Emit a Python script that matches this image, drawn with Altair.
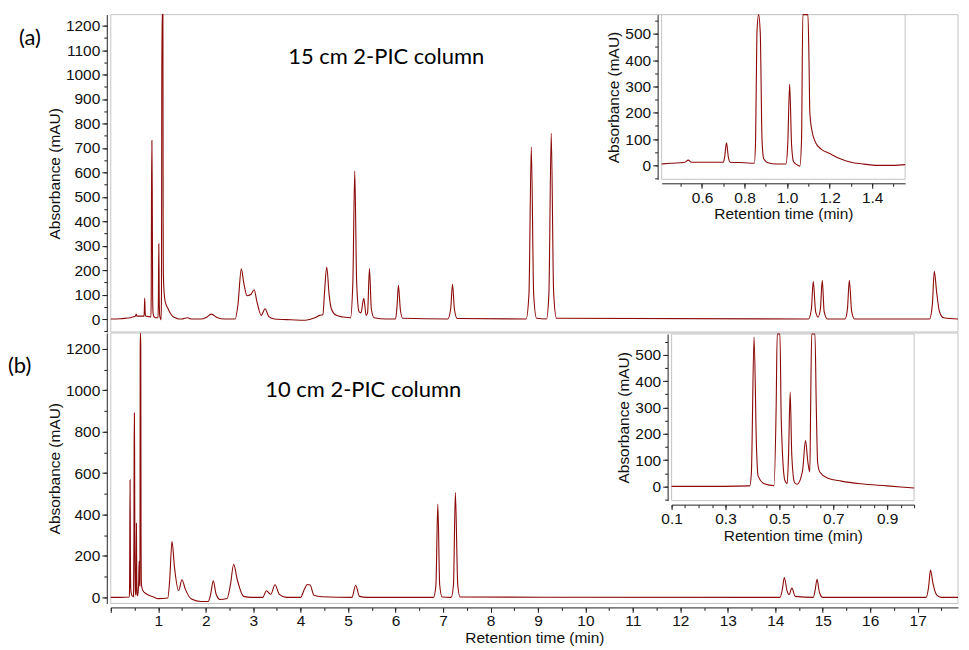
import altair as alt
import pandas as pd

# ---------------- data ----------------
# 15 cm 2-PIC column chromatogram (time in min, absorbance in mAU)
TIME_15 = [0.00, 0.20, 0.35, 0.41, 0.45, 0.52, 0.535, 0.55, 0.65, 0.70, 0.706, 0.715, 0.724, 0.732,
           0.80, 0.846, 0.852, 0.858, 0.866, 0.874, 0.882, 0.89, 0.91, 0.95, 0.995, 1.003, 1.012,
           1.021, 1.03, 1.045, 1.06, 1.068, 1.074, 1.08, 1.09, 1.098, 1.103, 1.107, 1.115, 1.135,
           1.16, 1.20, 1.25, 1.30, 1.35, 1.43, 1.50, 1.555, 1.62, 1.70, 1.90, 2.00, 2.12, 2.25,
           2.40, 2.62, 2.68, 2.75, 2.80, 2.87, 2.95, 3.02, 3.08, 3.17, 3.25, 3.33, 3.45, 3.80,
           4.10, 4.30, 4.40, 4.47, 4.50, 4.55, 4.60, 4.65, 4.75, 4.90, 5.05, 5.10, 5.14, 5.18,
           5.23, 5.27, 5.33, 5.38, 5.41, 5.45, 5.49, 5.55, 5.80, 6.00, 6.03, 6.06, 6.10, 6.15,
           7.10, 7.16, 7.20, 7.24, 7.30, 8.75, 8.81, 8.86, 8.91, 8.97, 9.18, 9.23, 9.28, 9.33,
           9.39, 14.70, 14.76, 14.80, 14.85, 14.90, 14.95, 14.99, 15.03, 15.10, 15.47, 15.52,
           15.56, 15.61, 15.67, 17.25, 17.31, 17.35, 17.40, 17.46, 17.55, 17.85]
ABS_15 = [0, 1, 4, 5, 8, 12, 20, 12, 12, 12, 30, 86, 30, 12,
          10, 8, 100, 500, 730, 500, 100, 25, 10, 5, 5, 80, 308,
          80, 15, 3, -3, 100, 900, 1800, 2500, 1500, 400, 200, 140, 85,
          62, 45, 25, 12, 6, 0, 0, 3, 5, 0, 0, 5, 20, 5,
          0, 0, 60, 205, 150, 95, 100, 120, 70, 15, 42, 10, 0, -3,
          -5, 5, 15, 18, 100, 213, 100, 40, 15, 8, 5, 150, 605, 150,
          30, 25, 85, 15, 25, 207, 40, 5, 0, 0, 50, 138, 40, 3,
          0, 40, 142, 40, 2, 0, 100, 703, 100, 3, 0, 100, 760, 110,
          3, 0, 40, 154, 30, 8, 40, 158, 30, 0, 0, 40,
          158, 30, 0, 0, 60, 195, 110, 30, 5, 0]

# 10 cm 2-PIC column chromatogram
TIME_10 = [0.00, 0.10, 0.20, 0.39, 0.396, 0.406, 0.415, 0.421, 0.444, 0.48, 0.488, 0.492, 0.497,
           0.502, 0.507, 0.52, 0.529, 0.534, 0.54, 0.546, 0.556, 0.566, 0.586, 0.597, 0.606,
           0.613, 0.616, 0.62, 0.626, 0.632, 0.637, 0.642, 0.65, 0.68, 0.73, 0.80, 0.90, 1.00,
           1.20, 1.24, 1.29, 1.34, 1.43, 1.50, 1.57, 1.70, 1.90, 2.05, 2.10, 2.16, 2.22, 2.30,
           2.45, 2.52, 2.59, 2.66, 2.80, 2.95, 3.20, 3.28, 3.37, 3.46, 3.55, 3.70, 4.00, 4.08,
           4.14, 4.20, 4.28, 4.45, 5.08, 5.16, 5.24, 5.40, 6.80, 6.85, 6.89, 6.93, 6.98, 7.17,
           7.22, 7.26, 7.31, 7.36, 14.10, 14.15, 14.19, 14.25, 14.29, 14.35, 14.42, 14.80, 14.84,
           14.88, 14.93, 15.00, 17.18, 17.23, 17.27, 17.32, 17.40, 17.50, 17.85]
ABS_10 = [0, 0, 0, 2, 50, 567, 150, 40, 10, 3, 300, 700, 890,
          700, 250, 24, 11, 120, 358, 120, 15, 8, 60, 174, 90,
          55, 300, 1200, 2500, 1200, 300, 90, 55, 31, 20, 10, 2, -6,
          -3, 80, 271, 150, 33, 85, 40, -8, -20, -20, 10, 80, 15, -10,
          -5, 60, 160, 90, 5, 0, 0, 32, 15, 61, 15, 0, 0, 40,
          62, 60, 10, 3, 0, 59, 5, 0, 0, 60, 451, 60, 2, 0,
          60, 506, 60, 2, 0, 40, 96, 30, 13, 45, 5, 0, 35,
          88, 25, 0, 0, 50, 132, 70, 12, 0, 0]

TITLE_A = "15 cm 2-PIC column"
TITLE_B = "10 cm 2-PIC column"
TAG_A = "(a)"
TAG_B = "(b)"
X_TITLE = "Retention time (min)"
Y_TITLE = "Absorbance (mAU)"

# axis domains
X_MAIN = [0, 17.85]
Y_TOP = [-53, 1245]
Y_BOT = [-29, 1276]
X_IN_A = [0.41, 1.555]
Y_IN_A = [-53, 573]
X_IN_B = [0.1, 1.0]
Y_IN_B = [-54, 579]

# tick positions
MAIN_X_MAJOR = list(range(0, 18))
MAIN_X_MINOR = [i / 2 for i in range(0, 36)]
TOP_Y_MAJOR = list(range(0, 1201, 100))
TOP_Y_MINOR = list(range(-50, 1201, 50))
BOT_Y_MAJOR = list(range(0, 1201, 200))
BOT_Y_MINOR = list(range(0, 1201, 100))
IN_Y_MAJOR = list(range(0, 501, 100))
IN_Y_MINOR = list(range(-50, 551, 50))
IN_A_X_MAJOR = [0.6, 0.8, 1.0, 1.2, 1.4]
IN_A_X_MINOR = [0.5, 0.6, 0.7, 0.8, 0.9, 1.0, 1.1, 1.2, 1.3, 1.4, 1.5]
IN_B_X_MAJOR = [0.1, 0.3, 0.5, 0.7, 0.9]
IN_B_X_MINOR = [0.1, 0.15, 0.2, 0.25, 0.3, 0.35, 0.4, 0.45, 0.5, 0.55, 0.6, 0.65, 0.7,
                0.75, 0.8, 0.85, 0.9, 0.95, 1.0]

# ---------------- layout (pixels inside the plot area) ----------------
W, H = 849, 590
R_X_MAIN = [0, W]
R_Y_TOP = [318, 0]
R_Y_BOT = [590, 319]
R_X_IN_A = [552, 796]
R_Y_IN_A = [165, 0]
R_X_IN_B = [562, 805]
R_Y_IN_B = [487, 320]

RED = "#8b0a0a"
FRAME = "#c4c4c4"
FONT = "Liberation Sans"
TFONT = "Lato"
FS = 15.5

AX = dict(grid=False, labelFont=FONT, labelFontSize=FS, labelColor="#111111",
          titleFont=FONT, titleFontSize=FS, titleFontWeight="normal", titleColor="#111111",
          domainColor="#222222", tickColor="#222222", labelFlush=False, labelOverlap=False)


def sc(domain, rng):
    return alt.Scale(domain=domain, range=rng, nice=False, zero=False, clamp=True)


def major(orient, values, offset, fmt, title=None, label_expr=None, z=0, lpad=2, tpad=3):
    kw = dict(AX)
    kw.update(orient=orient, values=values, offset=offset, format=fmt, tickSize=5,
              zindex=z, titlePadding=tpad, labelPadding=lpad)
    kw["title"] = title
    if label_expr is not None:
        kw["labelExpr"] = label_expr
    return alt.Axis(**kw)


def minor(orient, values, offset, z=0):
    return alt.Axis(orient=orient, values=values, offset=offset, labels=False, domain=False,
                    title=None, tickSize=3, grid=False, tickColor="#222222", zindex=z)


df15 = pd.DataFrame({"t": TIME_15, "a": ABS_15})
df10 = pd.DataFrame({"t": TIME_10, "a": ABS_10})

LINE = dict(color=RED, strokeWidth=1.1, interpolate="monotone")


def frame(xd, yd, xr, yr, xaxis, yaxis, fill=None):
    data = alt.Data(values=[{"x0": xd[0], "x1": xd[1], "y0": yd[0], "y1": yd[1]}])
    mk = dict(stroke=FRAME, strokeWidth=1)
    if fill:
        mk["fill"] = fill
    else:
        mk["fillOpacity"] = 0
    return alt.Chart(data).mark_rect(**mk).encode(
        x=alt.X("x0:Q", scale=sc(xd, xr), axis=xaxis),
        x2="x1:Q",
        y=alt.Y("y0:Q", scale=sc(yd, yr), axis=yaxis),
        y2="y1:Q",
    )


# ----- panel (a): 15 cm -----
top_frame = frame(X_MAIN, Y_TOP, R_X_MAIN, R_Y_TOP, None, minor("left", TOP_Y_MINOR, 4))
top_line = alt.Chart(df15).mark_line(**LINE).encode(
    x=alt.X("t:Q", scale=sc(X_MAIN, R_X_MAIN), axis=None),
    y=alt.Y("a:Q", scale=sc(Y_TOP, R_Y_TOP),
            axis=major("left", TOP_Y_MAJOR, 4, "d", Y_TITLE)),
)

# ----- panel (b): 10 cm -----
bot_frame = frame(X_MAIN, Y_BOT, R_X_MAIN, R_Y_BOT, minor("bottom", MAIN_X_MINOR, 4),
                  minor("left", BOT_Y_MINOR, 4))
bot_line = alt.Chart(df10).mark_line(**LINE).encode(
    x=alt.X("t:Q", scale=sc(X_MAIN, R_X_MAIN),
            axis=major("bottom", MAIN_X_MAJOR, 4, "d", X_TITLE,
                       "datum.value > 0 ? datum.label : ''", lpad=1, tpad=2)),
    y=alt.Y("a:Q", scale=sc(Y_BOT, R_Y_BOT),
            axis=major("left", BOT_Y_MAJOR, 4, "d", Y_TITLE)),
)

# ----- inset of (a) -----
OFF_A_X = R_Y_IN_A[0] + 4 - H
OFF_A_Y = -(R_X_IN_A[0] - 4)
ina_frame = frame(X_IN_A, Y_IN_A, R_X_IN_A, R_Y_IN_A,
                  minor("bottom", IN_A_X_MINOR, OFF_A_X, 1), minor("left", IN_Y_MINOR, OFF_A_Y, 1),
                  fill="white")
ina_line = alt.Chart(df15).transform_filter(
    (alt.datum.t >= X_IN_A[0]) & (alt.datum.t <= X_IN_A[1])
).mark_line(**LINE).encode(
    x=alt.X("t:Q", scale=sc(X_IN_A, R_X_IN_A),
            axis=major("bottom", IN_A_X_MAJOR, OFF_A_X, ".1f", X_TITLE, z=1, tpad=1)),
    y=alt.Y("a:Q", scale=sc(Y_IN_A, R_Y_IN_A),
            axis=major("left", IN_Y_MAJOR, OFF_A_Y, "d", Y_TITLE, z=1)),
)

# ----- inset of (b) -----
OFF_B_X = R_Y_IN_B[0] + 4 - H
OFF_B_Y = -(R_X_IN_B[0] - 4)
inb_frame = frame(X_IN_B, Y_IN_B, R_X_IN_B, R_Y_IN_B,
                  minor("bottom", IN_B_X_MINOR, OFF_B_X, 1), minor("left", IN_Y_MINOR, OFF_B_Y, 1),
                  fill="white")
inb_line = alt.Chart(df10).transform_filter(
    (alt.datum.t >= X_IN_B[0]) & (alt.datum.t <= X_IN_B[1])
).mark_line(**LINE).encode(
    x=alt.X("t:Q", scale=sc(X_IN_B, R_X_IN_B),
            axis=major("bottom", IN_B_X_MAJOR, OFF_B_X, ".1f", X_TITLE, z=1, tpad=1)),
    y=alt.Y("a:Q", scale=sc(Y_IN_B, R_Y_IN_B),
            axis=major("left", IN_Y_MAJOR, OFF_B_Y, "d", Y_TITLE, z=1)),
)


def label(text, x, y, size, align):
    return alt.Chart(alt.Data(values=[{"s": text}])).mark_text(
        align=align, baseline="alphabetic", font=TFONT, fontSize=size, color="#000000"
    ).encode(x=alt.value(x), y=alt.value(y), text="s:N")


texts = [
    label(TITLE_A, 276, 49, 22, "center"),
    label(TITLE_B, 253, 383, 22, "center"),
    label(TAG_A, -92, 30, 22, "left"),
    label(TAG_B, -103, 359, 22, "left"),
]

chart = alt.layer(
    top_frame, top_line, bot_frame, bot_line,
    ina_frame, ina_line, inb_frame, inb_line, *texts
).resolve_scale(
    x="independent", y="independent"
).properties(
    width=W, height=H,
    padding={"left": 0, "top": 3, "right": 0, "bottom": 0},
    background="white",
).configure_view(stroke=None)

chart.save("out.html", embed_options={"renderer": "svg", "actions": False})
